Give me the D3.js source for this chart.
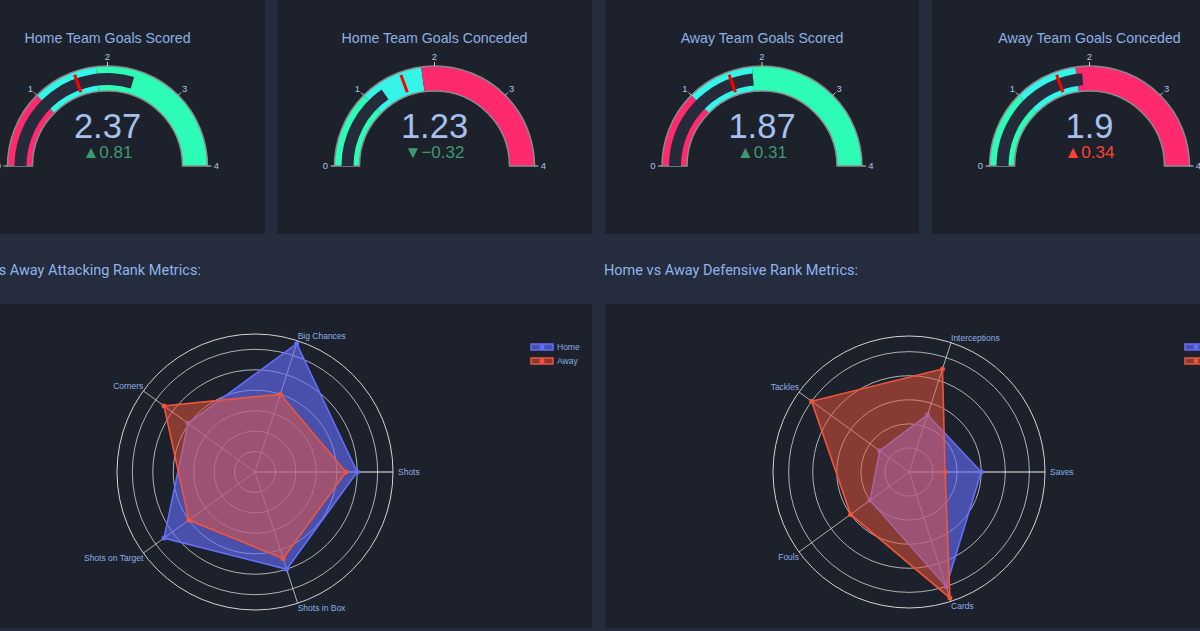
<!DOCTYPE html>
<html>
<head>
<meta charset="utf-8">
<script src="https://cdn.jsdelivr.net/npm/d3@7"></script>
<style>
  html, body { margin: 0; padding: 0; background: #252c3d; overflow: hidden; }
  svg { display: block; }
</style>
</head>
<body>
<svg id="chart" width="1200" height="631"></svg>
<script>
// ---------------- DATA ----------------
const gaugeTitles = ["Home Team Goals Scored", "Home Team Goals Conceded", "Away Team Goals Scored", "Away Team Goals Conceded"];
const gaugeValues = [2.37, 1.23, 1.87, 1.9];
const gaugeReferences = [1.56, 1.55, 1.56, 1.56];
const gaugeKinds = ["scored", "conceded", "scored", "conceded"];
const gaugeStepBreaks = [[0, 1, 1.85, 4], [0, 1, 1.83, 4], [0, 1, 1.87, 4], [0, 1, 1.82, 4]];
const gaugeTicks = [0, 1, 2, 3, 4];
const gaugeRange = [0, 4];

const sectionTitles = ["Home vs Away Attacking Rank Metrics:", "Home vs Away Defensive Rank Metrics:"];
const attackCategories = ["Shots", "Big Chances", "Corners", "Shots on Target", "Shots in Box"];
const attackHome = [10.0, 13.2, 8.1, 11.0, 10.0];
const attackAway = [8.9, 8.0, 11.0, 8.0, 8.9];
const attackRadialMax = 13.5;
const attackRadialTicks = [2, 4, 6, 8, 10, 12];

const defenseCategories = ["Saves", "Interceptions", "Tackles", "Fouls", "Cards"];
const defenseHome = [6, 5, 3, 4, 10];
const defenseAway = [3, 9, 10, 6, 11];
const defenseRadialMax = 11.3;
const defenseRadialTicks = [2, 4, 6, 8, 10];

const seriesNames = ["Home", "Away"];

// ---------------- STYLE ----------------
const COL = {
  panel: "#1d212b",
  red: "#ff2a6d", cyan: "#35f4e8", mint: "#2cfcb6",
  bar: "#262b3c",
  title: "#8cb0e6", number: "#a6c1ee", tick: "#a9c3ee",
  up: "#3d9970", down: "#ff4136",
  home: "#636efa", away: "#ef553b",
  grid: "#d4d4d4", header: "#8db4ec"
};
const plotFont = "'Liberation Sans', Arial, sans-serif";

const svg = d3.select("#chart");

// panels
const gaugePanels = [{x: -50, w: 315}, {x: 277, w: 315}, {x: 605, w: 314}, {x: 932, w: 315}];
gaugePanels.forEach(p => svg.append("rect").attr("x", p.x).attr("y", -10).attr("width", p.w).attr("height", 244).attr("fill", COL.panel));
const radarPanels = [{x: -50, w: 642}, {x: 605, w: 642}];
radarPanels.forEach(p => svg.append("rect").attr("x", p.x).attr("y", 304).attr("width", p.w).attr("height", 324).attr("fill", COL.panel));

// section headers
const headerX = [-51, 604];
sectionTitles.forEach((t, i) => svg.append("text").attr("x", headerX[i]).attr("y", 275)
  .attr("font-family", "Roboto, sans-serif").attr("font-size", 14.5).attr("fill", COL.header).text(t));

// ---------------- GAUGES ----------------
const angle = d3.scaleLinear().domain(gaugeRange).range([-Math.PI / 2, Math.PI / 2]);
const R_OUT = 100, R_IN = 75, BAR_IN = 81, BAR_OUT = 93, TH_IN = 78.5, TH_OUT = 97;
const gaugeCY = 166;

gaugeTitles.forEach((title, i) => {
  const p = gaugePanels[i];
  const cx = p.x + p.w / 2;
  const g = svg.append("g").attr("transform", `translate(${cx},${gaugeCY})`);
  const stepColors = gaugeKinds[i] === "scored" ? [COL.red, COL.cyan, COL.mint] : [COL.mint, COL.cyan, COL.red];
  const br = gaugeStepBreaks[i];
  for (let k = 0; k < br.length - 1; k++) {
    g.append("path").attr("d", d3.arc()({innerRadius: R_IN, outerRadius: R_OUT, startAngle: angle(br[k]), endAngle: angle(br[k + 1])}))
      .attr("fill", stepColors[k]);
  }
  // border
  g.append("path").attr("d", d3.arc()({innerRadius: R_IN, outerRadius: R_OUT, startAngle: angle(gaugeRange[0]), endAngle: angle(gaugeRange[1])}))
    .attr("fill", "none").attr("stroke", "#8a8a8a").attr("stroke-width", 1.5);
  // bar
  g.append("path").attr("d", d3.arc()({innerRadius: BAR_IN, outerRadius: BAR_OUT, startAngle: angle(gaugeRange[0]), endAngle: angle(gaugeValues[i])}))
    .attr("fill", COL.bar);
  // threshold
  const ta = angle(gaugeReferences[i]);
  g.append("line")
    .attr("x1", TH_IN * Math.sin(ta)).attr("y1", -TH_IN * Math.cos(ta))
    .attr("x2", TH_OUT * Math.sin(ta)).attr("y2", -TH_OUT * Math.cos(ta))
    .attr("stroke", "#ff0000").attr("stroke-width", 3);
  // ticks
  gaugeTicks.forEach(t => {
    const a = angle(t);
    g.append("line").attr("x1", R_OUT * Math.sin(a)).attr("y1", -R_OUT * Math.cos(a))
      .attr("x2", (R_OUT + 4) * Math.sin(a)).attr("y2", -(R_OUT + 4) * Math.cos(a))
      .attr("stroke", "#c8c8c8").attr("stroke-width", 1);
    const lr = 109;
    g.append("text").attr("x", lr * Math.sin(a)).attr("y", -lr * Math.cos(a)).attr("dy", "0.35em")
      .attr("text-anchor", "middle").attr("font-family", plotFont).attr("font-size", 9.5)
      .attr("fill", COL.tick).text(t);
  });
  // title
  svg.append("text").attr("x", cx).attr("y", 43).attr("text-anchor", "middle")
    .attr("font-family", plotFont).attr("font-size", 14.2).attr("fill", COL.title).text(title);
  // number
  g.append("text").attr("x", 0).attr("y", 138 - gaugeCY).attr("text-anchor", "middle")
    .attr("font-family", plotFont).attr("font-size", 34.5).attr("fill", COL.number).text(String(gaugeValues[i]));
  // delta
  const d = +(gaugeValues[i] - gaugeReferences[i]).toFixed(2);
  const good = gaugeKinds[i] === "scored" ? d >= 0 : d < 0;
  g.append("text").attr("x", 0).attr("y", 158 - gaugeCY).attr("text-anchor", "middle")
    .attr("font-family", plotFont).attr("font-size", 17).attr("fill", good ? COL.up : COL.down)
    .text((d >= 0 ? "▲" : "▼") + (d < 0 ? "\u2212" : "") + Math.abs(d).toFixed(2));
});

// ---------------- RADARS ----------------
function radar(cx, cy, outerR, cats, home, away, rMax, rTicks) {
  const g = svg.append("g").attr("transform", `translate(${cx},${cy})`);
  const r = d3.scaleLinear().domain([0, rMax]).range([0, outerR]);
  const n = cats.length;
  const theta = d3.scaleLinear().domain([0, n]).range([0, 2 * Math.PI]);
  const pt = (v, i) => [r(v) * Math.cos(theta(i)), -r(v) * Math.sin(theta(i))];

  rTicks.forEach(t => g.append("circle").attr("r", r(t)).attr("fill", "none").attr("stroke", COL.grid).attr("stroke-opacity", 0.8).attr("stroke-width", 1));
  g.append("circle").attr("r", r(rMax)).attr("fill", "none").attr("stroke", COL.grid).attr("stroke-width", 1);
  cats.forEach((c, i) => {
    const [x, y] = pt(rMax, i);
    g.append("line").attr("x1", 0).attr("y1", 0).attr("x2", x).attr("y2", y)
      .attr("stroke", i === 0 ? "#f0f0f0" : COL.grid).attr("stroke-opacity", i === 0 ? 1 : 0.8).attr("stroke-width", 1);
    const cs = Math.cos(theta(i)), sn = Math.sin(theta(i));
    let anchor = cs > 0.2 ? "start" : cs < -0.2 ? "end" : "middle";
    let lx = x + (Math.abs(sn) < 0.3 ? (cs > 0 ? 5 : -5) : 0);
    let ly = y + (Math.abs(sn) < 0.3 ? 3 : sn > 0 ? -2 : 8);
    g.append("text").attr("x", lx).attr("y", ly).attr("text-anchor", anchor)
      .attr("font-family", plotFont).attr("font-size", 8.5).attr("fill", COL.title).text(c);
  });
  const line = d3.line().curve(d3.curveLinearClosed);
  [[home, COL.home, 0.62], [away, COL.away, 0.5]].forEach(([vals, col, op]) => {
    const pts = vals.map((v, i) => pt(v, i));
    g.append("path").attr("d", line(pts)).attr("fill", col).attr("fill-opacity", op)
      .attr("stroke", col).attr("stroke-width", 1.6);
    pts.forEach(p => g.append("circle").attr("cx", p[0]).attr("cy", p[1]).attr("r", 2.5).attr("fill", col));
  });
  // legend
  const lg = svg.append("g").attr("transform", `translate(${cx + 276},${cy - 125})`);
  [[COL.home, 0.62], [COL.away, 0.5]].forEach(([col, op], k) => {
    const y = k * 14;
    lg.append("rect").attr("x", 0).attr("y", y - 3).attr("width", 22).attr("height", 6).attr("fill", col).attr("fill-opacity", op)
      .attr("stroke", col).attr("stroke-width", 1.5);
    lg.append("circle").attr("cx", 11).attr("cy", y).attr("r", 2.5).attr("fill", col);
    lg.append("text").attr("x", 26).attr("y", y + 3).attr("font-family", plotFont).attr("font-size", 8.5)
      .attr("fill", COL.title).text(seriesNames[k]);
  });
}
radar(255, 472, 138, attackCategories, attackHome, attackAway, attackRadialMax, attackRadialTicks);
radar(909, 472, 136, defenseCategories, defenseHome, defenseAway, defenseRadialMax, defenseRadialTicks);
</script>
</body>
</html>
